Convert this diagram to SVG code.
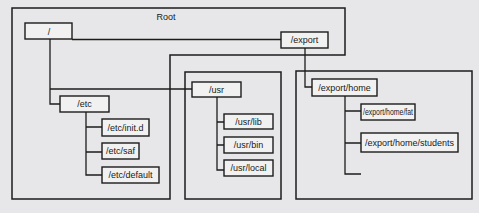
<svg xmlns="http://www.w3.org/2000/svg" width="479" height="213" viewBox="0 0 479 213">
<style>
.region{fill:none;stroke:#1c1c1c;stroke-width:1.5}
.box{fill:#f1f1f1;stroke:#1c1c1c;stroke-width:1.4}
.conn{fill:none;stroke:#1c1c1c;stroke-width:1.3}
text{font-family:"Liberation Sans",Arial,sans-serif;font-size:9px;fill:#1a1a1a;text-anchor:middle}
</style>
<rect width="479" height="213" fill="#e7e7e9"/>
<g id="regions">
<path class="region" d="M12,8 H345 V55 H170 V199 H12 Z"/>
<text x="166" y="20">Root</text>
<rect class="region" x="185" y="72" width="96" height="127"/>
<rect class="region" x="296" y="71" width="176" height="128"/>
</g>
<g id="connectors">
<path class="conn" d="M72,39.5 H281"/>
<path class="conn" d="M50,39 V104 H60"/>
<path class="conn" d="M50,89 H192"/>
<path class="conn" d="M86,112 V175 H102 M86,127 H102 M86,152 H102"/>
<path class="conn" d="M217,97 V170 H224 M217,122 H224 M217,145 H224"/>
<path class="conn" d="M305,48 V87 H312"/>
<path class="conn" d="M345,96 V174 H361 M345,111 H361 M345,143 H361"/>
</g>
<g id="root"><rect class="box" x="25" y="23" width="47" height="16"/><text x="49" y="34.5">/</text></g>
<g id="etc"><rect class="box" x="60" y="96" width="49" height="16"/><text x="84.5" y="107">/etc</text></g>
<g id="etc-init"><rect class="box" x="102" y="119" width="47" height="17"/><text x="125.5" y="130.5">/etc/init.d</text></g>
<g id="etc-saf"><rect class="box" x="102" y="143" width="37" height="16"/><text x="120.5" y="154">/etc/saf</text></g>
<g id="etc-default"><rect class="box" x="102" y="167" width="57" height="16"/><text x="130.5" y="178">/etc/default</text></g>
<g id="usr"><rect class="box" x="192" y="82" width="49" height="15"/><text x="216.5" y="92.5">/usr</text></g>
<g id="usr-lib"><rect class="box" x="224" y="114" width="49" height="15"/><text x="248.5" y="124.5">/usr/lib</text></g>
<g id="usr-bin"><rect class="box" x="224" y="137" width="49" height="16"/><text x="248.5" y="148">/usr/bin</text></g>
<g id="usr-local"><rect class="box" x="224" y="160" width="49" height="16"/><text x="248.5" y="171">/usr/local</text></g>
<g id="export"><rect class="box" x="281" y="32" width="47" height="16"/><text x="304.5" y="43">/export</text></g>
<g id="export-home"><rect class="box" x="312" y="79" width="65" height="17"/><text x="344.5" y="90.5">/export/home</text></g>
<g id="export-home-fat"><rect class="box" x="361" y="104" width="54" height="16"/><text x="388" y="115" textLength="50" lengthAdjust="spacingAndGlyphs">/export/home/fat</text></g>
<g id="export-home-students"><rect class="box" x="361" y="133" width="97" height="19"/><text x="409.5" y="145.5">/export/home/students</text></g>
</svg>
